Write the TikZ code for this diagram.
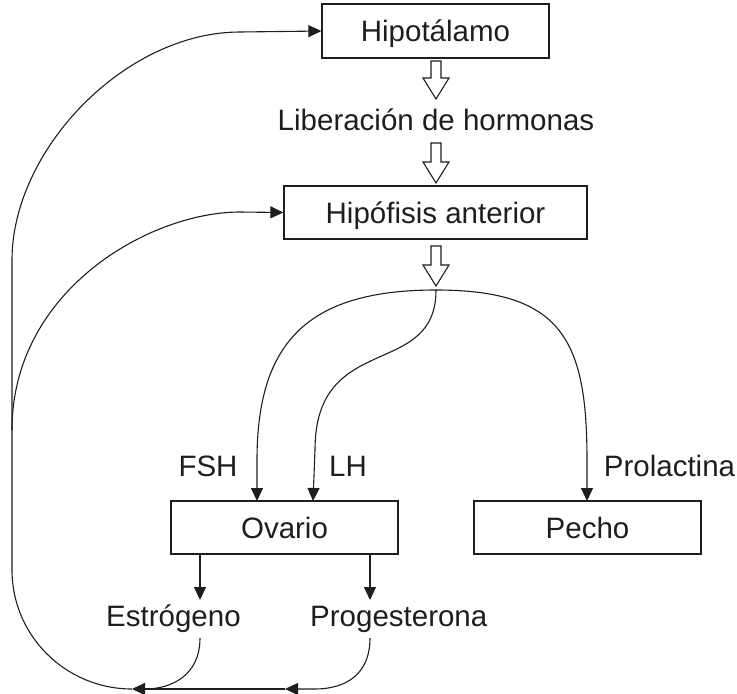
\documentclass[tikz,border=0pt]{standalone}
\usepackage{fontspec}
\setmainfont{Liberation Sans}
\usetikzlibrary{arrows.meta}
\definecolor{ink}{HTML}{1E1E1E}
\tikzset{
  txt/.style={inner sep=0pt, text=ink, font=\fontsize{29.5}{35}\selectfont, text height=21pt, text depth=0pt},
  box/.style={txt, draw=ink, line width=1.3pt, minimum width=227pt, minimum height=53pt},
  conn/.style={draw=ink, line width=1.1pt},
  arr/.style={conn, -{Triangle[length=13pt,width=12pt]}},
  hollow/.style={draw=ink, line width=1.1pt, fill=white, line join=miter}
}
\newcommand\hollowarr[2]{%
  \draw[hollow] (431,#1) -- (441,#1) -- (441,#2-21) -- (449,#2-21) -- (436,#2)
     -- (423,#2-21) -- (431,#2-21) -- cycle;}
\begin{document}
\begin{tikzpicture}[x=1pt,y=-1pt]
\useasboundingbox (0,0) rectangle (737,694);
% nodes
\node[box, minimum height=54pt] (hypo) at (435.5,31) {Hipotálamo};
\node[txt] (lib) at (436,120) {Liberación de hormonas};
\node[box, minimum width=303pt] (hipof) at (435.5,212.5) {Hipófisis anterior};
\node[box] (ova) at (284.5,527.5) {Ovario};
\node[box] (pecho) at (587.5,527.5) {Pecho};
\node[txt] (fsh) at (208,465.5) {FSH};
\node[txt] (lh) at (348,465.5) {LH};
\node[txt] (prl) at (669.5,465.5) {Prolactina};
\node[txt, anchor=west] (est) at (106,616) {Estrógeno};
\node[txt, anchor=west] (prog) at (310,616) {Progesterona};
% coordinates
\coordinate (branch) at (436,290);
\coordinate (fshin) at (257,501);
\coordinate (lhin) at (313,501);
\coordinate (prlin) at (587,501);
\coordinate (estout) at (200,554);
\coordinate (progout) at (370,554);
\coordinate (estin) at (200,600);
\coordinate (progin) at (370,600);
\coordinate (j1) at (132,689);
\coordinate (j2) at (285,689);
% hollow arrows
\hollowarr{61}{99}
\hollowarr{143}{183}
\hollowarr{246}{286}
% branches
\draw[arr] (branch) .. controls (310,290) and (257,340) .. (257,460) -- (fshin);
\draw[arr] (branch) .. controls (436,380) and (315,330) .. (315,450) -- (lhin);
\draw[arr] (branch) .. controls (562,290) and (587,340) .. (587,460) -- (prlin);
% ovary outputs
\draw[arr] (estout) -- (estin);
\draw[arr] (progout) -- (progin);
% bottom feedback
\draw[arr] (200,638) .. controls (200,675) and (172,689) .. (j1);
\draw[arr] (370,638) .. controls (370,675) and (345,689) .. (315,689) -- (j2);
\draw[conn] (j2) -- (140,689);
\draw[arr] (j1) .. controls (66,689) and (12,636) .. (12,570) -- (12,260)
   .. controls (12,150) and (125,32) .. (240,32) -- (hypo.west);
\draw[arr] (12,430) .. controls (12,290) and (150,212) .. (240,212) -- (hipof.west);
\end{tikzpicture}
\end{document}
